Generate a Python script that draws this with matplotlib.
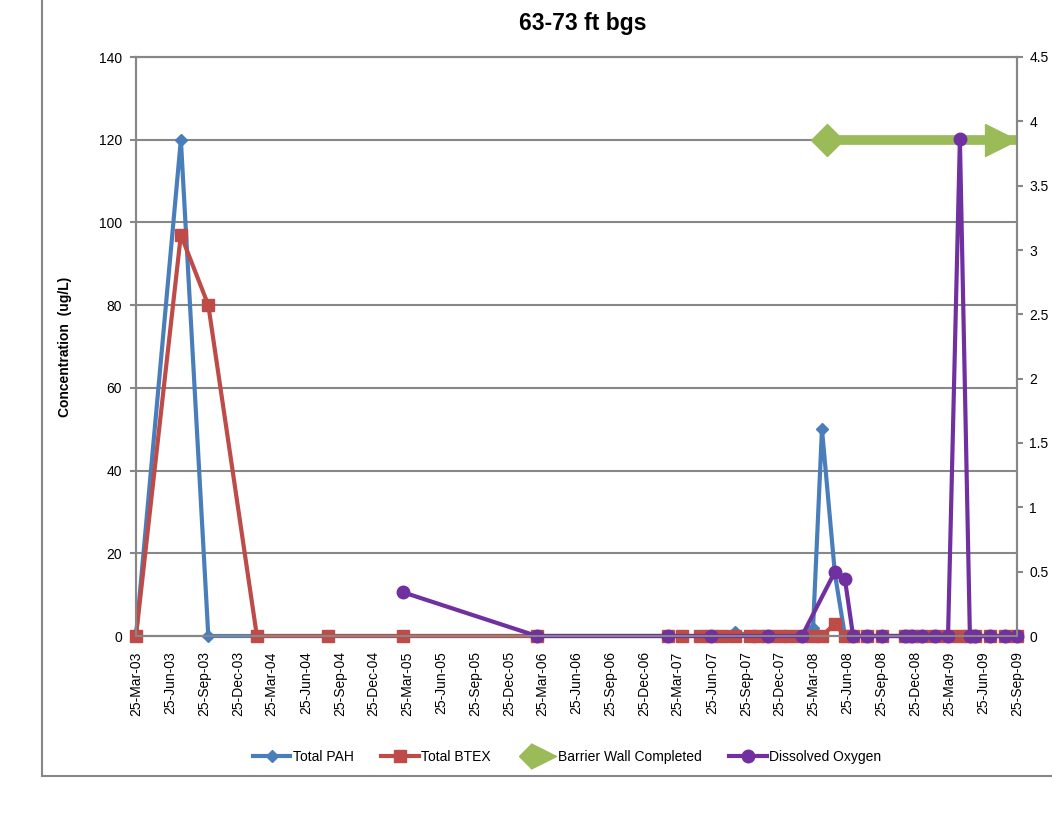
# plot.py - monitoring well concentrations vs dissolved oxygen (63-73 ft bgs)
import matplotlib
matplotlib.use('Agg')
import matplotlib.pyplot as plt
import matplotlib.dates as mdates
from matplotlib.lines import Line2D
from matplotlib.legend_handler import HandlerBase
import pandas as pd

plt.rcParams['font.family'] = ['Liberation Sans', 'DejaVu Sans']

# --- data ---
sample_dates = ['2003-03-25', '2003-07-24', '2003-10-06', '2004-02-14', '2004-08-24',
                '2005-03-14', '2006-03-10', '2007-02-27', '2007-04-06', '2007-05-24',
                '2007-06-23', '2007-07-22', '2007-08-26', '2007-10-06', '2007-10-28',
                '2007-11-23', '2007-12-26', '2008-01-22', '2008-02-23', '2008-03-24',
                '2008-04-17', '2008-05-22', '2008-06-18', '2008-07-10', '2008-08-16',
                '2008-09-26', '2008-11-27', '2008-12-16', '2009-01-12', '2009-02-16',
                '2009-03-23', '2009-04-24', '2009-05-21', '2009-06-04', '2009-07-14',
                '2009-08-24', '2009-09-25']
total_pah = [0, 120, 0, 0, 0, 0, 0, 0, 0, 0,
             0, 0, 1, 0, 0, 0, 0, 0, 0, 2,
             50, 15, 0, 0, 0, 0, 0, 0, 0, 0,
             0, 0, 0, 0, 0, 0, 0]
total_btex = [0, 97, 80, 0, 0, 0, 0, 0, 0, 0,
              0, 0, 0, 0, 0, 0, 0, 0, 0, 0,
              0, 3, 0, 0, 0, 0, 0, 0, 0, 0,
              0, 0, 0, 0, 0, 0, 0]

do_dates = ['2005-03-14', '2006-03-10', '2007-02-27', '2007-06-23', '2007-11-23',
            '2008-02-23', '2008-05-22', '2008-06-18', '2008-07-10', '2008-08-16',
            '2008-09-26', '2008-11-27', '2008-12-16', '2009-01-12', '2009-02-16',
            '2009-03-23', '2009-04-24', '2009-05-21', '2009-06-04', '2009-07-14',
            '2009-08-24', '2009-09-25']
dissolved_oxygen = [0.34, 0, 0, 0, 0,
                    0, 0.5, 0.44, 0, 0,
                    0, 0, 0, 0, 0,
                    0, 3.86, 0, 0, 0,
                    0, 0]

wall_dates = ['2008-05-01', '2009-09-25']
wall_level = [120, 120]

x_start, x_end = '2003-03-25', '2009-09-25'

BLUE = '#4A7EBB'
RED = '#BE4B48'
GREEN = '#9BBB59'
PURPLE = '#7030A0'
GRAY = '#878787'

# arrow head with its tip on the data point
ARROW = [(0, 0), (-1, 0.5), (-1, -0.5), (0, 0)]


class WallHandler(HandlerBase):
    def create_artists(self, legend, orig_handle, xdescent, ydescent,
                       width, height, fontsize, trans):
        y = height / 2 - ydescent
        x0, x1 = -xdescent, width - xdescent
        bar = Line2D([x0 + 8, x1 - 10], [y, y], color=GREEN, lw=5)
        head = Line2D([x0 + 9], [y], marker='D', ms=12, color=GREEN, ls='none')
        tip = Line2D([x1], [y], marker=ARROW, ms=36, color=GREEN, ls='none')
        for a in (bar, head, tip):
            a.set_transform(trans)
        return [bar, head, tip]


sd = pd.to_datetime(sample_dates)
dd = pd.to_datetime(do_dates)
wd = pd.to_datetime(wall_dates)

fig = plt.figure(figsize=(10.52, 8.35), dpi=100)
ax = fig.add_axes([136 / 1052, 1 - 636 / 835, 881 / 1052, 579 / 835])

l_pah, = ax.plot(sd, total_pah, color=BLUE, lw=3, marker='D', ms=6,
                 mec=BLUE, clip_on=False, label='Total PAH')
l_btex, = ax.plot(sd, total_btex, color=RED, lw=3, marker='s', ms=8.5,
                  mec=RED, clip_on=False, label='Total BTEX')

# barrier wall arrow
ax.plot(wd, wall_level, color=GREEN, lw=7, solid_capstyle='butt', clip_on=False)
ax.plot(wd[:1], wall_level[:1], color=GREEN, marker='D', ms=16, ls='none', clip_on=False)
ax.plot(wd[1:], wall_level[1:], color=GREEN, marker=ARROW, ms=46, ls='none', clip_on=False)
wall_proxy = Line2D([], [], color=GREEN)

ax.set_xlim(pd.Timestamp(x_start), pd.Timestamp(x_end))
ax.set_ylim(0, 140)
ax.set_yticks(range(0, 141, 20))
ax.yaxis.grid(True, color=GRAY, lw=1.5)
ax.set_axisbelow(True)
ax.xaxis.set_major_locator(mdates.MonthLocator(bymonth=[3, 6, 9, 12], bymonthday=25))
ax.xaxis.set_major_formatter(mdates.DateFormatter('%d-%b-%y'))
ax.tick_params(axis='x', rotation=90, length=0, pad=11, labelsize=10)
ax.tick_params(axis='y', length=4, color=GRAY, width=1.5, labelsize=10, pad=6)
ax.set_ylabel('Concentration  (ug/L)', fontsize=10, fontweight='bold')
ax.yaxis.set_label_coords(-0.073, 0.5)
for s in ax.spines.values():
    s.set_color(GRAY)
    s.set_linewidth(1.5)

ax2 = ax.twinx()
l_do, = ax2.plot(dd, dissolved_oxygen, color=PURPLE, lw=3, marker='o', ms=9,
                 mec=PURPLE, clip_on=False, label='Dissolved Oxygen')
ax2.set_ylim(0, 4.5)
ax2.set_yticks([0, 0.5, 1, 1.5, 2, 2.5, 3, 3.5, 4, 4.5])
ax2.set_yticklabels(['0', '0.5', '1', '1.5', '2', '2.5', '3', '3.5', '4', '4.5'])
ax2.tick_params(axis='y', length=4, color=GRAY, width=1.5, labelsize=10, pad=5)
for s in ax2.spines.values():
    s.set_color(GRAY)
    s.set_linewidth(1.5)

fig.text(583 / 1052, 1 - 30 / 835, '63-73 ft bgs', ha='center', va='baseline',
         fontsize=16.5, fontweight='bold')

fig.legend([l_pah, l_btex, wall_proxy, l_do],
           ['Total PAH', 'Total BTEX', 'Barrier Wall Completed', 'Dissolved Oxygen'],
           loc='center', bbox_to_anchor=(567 / 1052, 1 - 757 / 835), ncol=4,
           frameon=False, fontsize=10, handlelength=2.7, handletextpad=0.15,
           columnspacing=2.0, handler_map={wall_proxy: WallHandler()})

# outer chart border (partly outside the picture)
fig.add_artist(Line2D([42 / 1052, 42 / 1052], [1.01, 1 - 776 / 835],
                      transform=fig.transFigure, color=GRAY, lw=1.5))
fig.add_artist(Line2D([42 / 1052, 1.01], [1 - 776 / 835, 1 - 776 / 835],
                      transform=fig.transFigure, color=GRAY, lw=1.5))

fig.savefig('out.png', dpi=100)
